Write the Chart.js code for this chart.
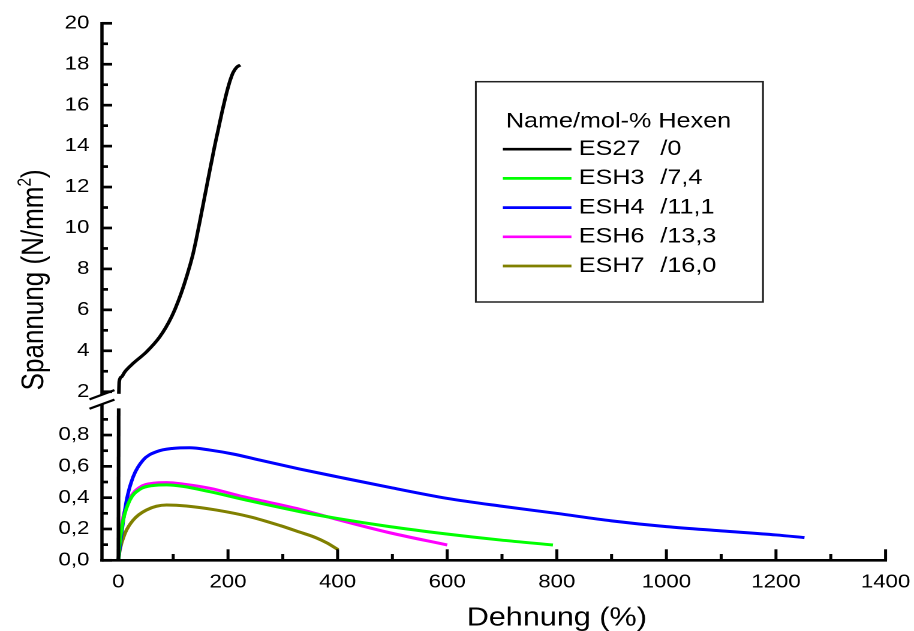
<!DOCTYPE html>
<html>
<head>
<meta charset="utf-8">
<title>Spannung-Dehnung</title>
<script src="https://cdn.jsdelivr.net/npm/chart.js@4.4.1/dist/chart.umd.min.js"></script>
<style>
  html, body { margin: 0; padding: 0; background: #fff; overflow: hidden; }
  /* the plot is laid out on a 762px wide canvas and widened to 914px */
  #stage {
    position: absolute; left: 0; top: 0;
    width: 762px; height: 631px;
    transform: scaleX(1.199475); transform-origin: 0 0;
  }
</style>
</head>
<body>
<div id="stage"><canvas id="chart"></canvas></div>
<script>
const FONT = "'Liberation Sans', Arial, Helvetica, sans-serif";

// ---- series: strain (%) and stress (N/mm²) ----
const seriesNames  = ['ES27', 'ESH3', 'ESH4', 'ESH6', 'ESH7'];
const hexenContent = ['/0', '/7,4', '/11,1', '/13,3', '/16,0'];
const legendTitle  = 'Name/mol-% Hexen';

const es27Strain = [0, 0.5, 0.8, 1.5, 5.8, 11.9, 27, 51.4, 75.7, 97, 112.2, 124.4, 136.4, 150.5, 163.3, 176, 188.3, 199.8, 208.9, 216.2, 222.5];
const es27Stress = [0, 0.97, 1.9, 2.49, 2.73, 2.98, 3.39, 3.95, 4.69, 5.66, 6.64, 7.62, 8.76, 10.58, 12.34, 14.05, 15.57, 16.84, 17.57, 17.86, 17.96];

const esh3Strain = [0, 2.7, 8.8, 21, 39, 63.5, 88, 118, 167, 228, 331, 398, 495, 599, 696, 793];
const esh3Stress = [0, 0.115, 0.257, 0.385, 0.453, 0.478, 0.482, 0.472, 0.438, 0.389, 0.311, 0.268, 0.215, 0.168, 0.130, 0.098];

const esh4Strain = [0, 1.5, 5.8, 15, 27, 45, 70, 100, 130, 167, 209, 258, 331, 404, 500, 599, 700, 799, 900, 1000, 1100, 1200, 1252];
const esh4Stress = [0, 0.045, 0.172, 0.385, 0.534, 0.64, 0.694, 0.715, 0.719, 0.704, 0.679, 0.640, 0.583, 0.530, 0.462, 0.396, 0.345, 0.300, 0.252, 0.215, 0.188, 0.162, 0.145];

const esh6Strain = [0, 2.7, 8.8, 21, 39, 63.5, 88, 118, 167, 228, 331, 398, 495, 600];
const esh6Stress = [0, 0.13, 0.278, 0.396, 0.466, 0.492, 0.496, 0.487, 0.46, 0.406, 0.326, 0.262, 0.176, 0.098];

const esh7Strain = [0, 2.7, 12, 27, 51, 88, 124, 179, 240, 295, 331, 360, 380, 401];
const esh7Stress = [0, 0.066, 0.172, 0.257, 0.321, 0.353, 0.347, 0.321, 0.278, 0.222, 0.180, 0.145, 0.112, 0.068];

// ---- axis ticks ----
const strainTicks          = [0, 200, 400, 600, 800, 1000, 1200, 1400];
const strainMinorTicks     = [100, 300, 500, 700, 900, 1100, 1300];
const lowStressTicks       = [0, 0.2, 0.4, 0.6, 0.8];
const lowStressMinorTicks  = [0.1, 0.3, 0.5, 0.7, 0.9];
const highStressTicks      = [2, 4, 6, 8, 10, 12, 14, 16, 18, 20];
const highStressMinorTicks = [3, 5, 7, 9, 11, 13, 15, 17, 19];

const seriesColors = ['#000000', '#00ff00', '#0000ff', '#ff00ff', '#808000'];

// broken stress axis: lower segment 0..1, upper segment from just below 2 up to 20
const LOW_MAX = 1.0;
const HIGH_MIN = 1.414;
const BREAK_LOW = 0.997;
const BREAK_HIGH = 1.853;

function toPoints(xs, ys, keep) {
  const out = [];
  xs.forEach((x, i) => { if (!keep || keep(ys[i])) out.push({ x: x, y: ys[i] }); });
  return out;
}

const lineStyle = (color) => ({
  borderColor: color,
  backgroundColor: color,
  borderWidth: 3,
  pointRadius: 0,
  fill: false,
  cubicInterpolationMode: 'monotone'
});

const datasets = [
  Object.assign({ label: seriesNames[0], yAxisID: 'yLow',
    data: toPoints(es27Strain, es27Stress, v => v <= LOW_MAX) }, lineStyle(seriesColors[0])),
  Object.assign({ label: seriesNames[0], yAxisID: 'yHigh',
    data: toPoints(es27Strain, es27Stress, v => v > LOW_MAX) }, lineStyle(seriesColors[0])),
  Object.assign({ label: seriesNames[1], yAxisID: 'yLow', data: toPoints(esh3Strain, esh3Stress) }, lineStyle(seriesColors[1])),
  Object.assign({ label: seriesNames[2], yAxisID: 'yLow', data: toPoints(esh4Strain, esh4Stress) }, lineStyle(seriesColors[2])),
  Object.assign({ label: seriesNames[3], yAxisID: 'yLow', data: toPoints(esh6Strain, esh6Stress) }, lineStyle(seriesColors[3])),
  Object.assign({ label: seriesNames[4], yAxisID: 'yLow', data: toPoints(esh7Strain, esh7Stress) }, lineStyle(seriesColors[4]))
];

const tickFont = { family: FONT, size: 18.5 };
const setTicks = (list) => (scale) => { scale.ticks = list.map(v => ({ value: v })); };

// frame, inward ticks, axis break, titles and legend box
const axisFrame = {
  id: 'axisFrame',
  beforeDraw(chart) {
    const { ctx, width, height } = chart;
    ctx.save();
    ctx.fillStyle = '#ffffff';
    ctx.fillRect(0, 0, width, height);
    ctx.restore();
  },
  afterDatasetsDraw(chart) {
    const { ctx } = chart;
    const { x, yLow, yHigh } = chart.scales;
    const ax = x.getPixelForValue(x.min);
    const axRight = x.getPixelForValue(x.max);
    const base = yLow.getPixelForValue(0);
    const lowTop = yLow.getPixelForValue(BREAK_LOW);
    const highBottom = yHigh.getPixelForValue(BREAK_HIGH);
    const highTop = yHigh.getPixelForValue(yHigh.max);

    ctx.save();
    ctx.strokeStyle = '#000';
    ctx.fillStyle = '#000';
    ctx.lineCap = 'butt';
    const seg = (x1, y1, x2, y2, w) => {
      ctx.lineWidth = w;
      ctx.beginPath();
      ctx.moveTo(x1, y1);
      ctx.lineTo(x2, y2);
      ctx.stroke();
    };

    // axis lines
    seg(ax - 1.4, base, axRight + 1.2, base, 2.7);
    seg(ax, base + 1.35, ax, lowTop, 2.75);
    seg(ax, highBottom, ax, highTop - 1.35, 2.75);

    // stress ticks (pointing into the plot)
    lowStressTicks.forEach(v => { const p = yLow.getPixelForValue(v); seg(ax, p, ax + 8.5, p, 2.7); });
    lowStressMinorTicks.forEach(v => { const p = yLow.getPixelForValue(v); seg(ax, p, ax + 5, p, 2.7); });
    highStressTicks.forEach(v => { const p = yHigh.getPixelForValue(v); seg(ax, p, ax + 8.5, p, 2.7); });
    highStressMinorTicks.forEach(v => { const p = yHigh.getPixelForValue(v); seg(ax, p, ax + 5, p, 2.7); });

    // strain ticks
    strainTicks.forEach(v => { const p = x.getPixelForValue(v); seg(p, base, p, base - 11, 2.5); });
    strainMinorTicks.forEach(v => { const p = x.getPixelForValue(v); seg(p, base, p, base - 6.3, 2.5); });

    // axis break marks
    [highBottom, lowTop].forEach(yb => seg(ax - 10.4, yb + 4.6, ax + 10.4, yb - 4.6, 2.2));

    // x axis title
    ctx.font = '25.5px ' + FONT;
    ctx.textAlign = 'center';
    ctx.textBaseline = 'alphabetic';
    ctx.fillText('Dehnung (%)', x.getPixelForValue(800), 625.3);

    // y axis title with superscript
    const main = 'Spannung (N/mm';
    const sup = '2';
    const tail = ')';
    ctx.save();
    ctx.translate(36, (yHigh.top + yLow.bottom) / 2 - 12);
    ctx.rotate(-Math.PI / 2);
    ctx.textAlign = 'left';
    ctx.font = '26px ' + FONT;
    const wMain = ctx.measureText(main).width;
    const wTail = ctx.measureText(tail).width;
    ctx.font = '15.5px ' + FONT;
    const wSup = ctx.measureText(sup).width;
    let cx = -(wMain + wSup + wTail) / 2;
    ctx.font = '26px ' + FONT;
    ctx.fillText(main, cx, 0);
    cx += wMain;
    ctx.font = '15.5px ' + FONT;
    ctx.fillText(sup, cx, -10.5);
    cx += wSup;
    ctx.font = '26px ' + FONT;
    ctx.fillText(tail, cx, 0);
    ctx.restore();

    // legend
    const box = { left: 396.7, top: 81.7, width: 239.4, height: 220.3 };
    ctx.lineWidth = 1.5;
    ctx.strokeStyle = '#222';
    ctx.strokeRect(box.left, box.top, box.width, box.height);
    ctx.font = '21px ' + FONT;
    ctx.textAlign = 'left';
    ctx.textBaseline = 'middle';
    ctx.fillStyle = '#000';
    ctx.fillText(legendTitle, 421.7, 121.7);
    seriesNames.forEach((name, i) => {
      const yRow = 149.2 + i * 29.2;
      ctx.strokeStyle = seriesColors[i];
      seg(419.2, yRow, 476.4, yRow, 2.7);
      ctx.fillStyle = '#000';
      ctx.fillText(name, 482.5, yRow);
      ctx.fillText(hexenContent[i], 550.5, yRow);
    });
    ctx.restore();
  }
};

new Chart(document.getElementById('chart'), {
  type: 'line',
  data: { datasets: datasets },
  options: {
    responsive: true,
    maintainAspectRatio: false,
    animation: false,
    devicePixelRatio: 2,
    events: [],
    layout: { padding: { top: 23.3, right: 23.7, bottom: 0, left: 0 } },
    plugins: { legend: { display: false }, tooltip: { enabled: false }, title: { display: false } },
    scales: {
      x: {
        type: 'linear',
        min: -30,
        max: 1400,
        grid: { display: false, drawTicks: false },
        border: { display: false },
        ticks: { font: tickFont, color: '#000', padding: 11, maxRotation: 0, autoSkip: false,
                 callback: (v) => String(v) },
        afterBuildTicks: setTicks(strainTicks),
        afterFit: (s) => { s.height = 70.7; s.paddingLeft = 0; s.paddingRight = 0; }
      },
      yLow: {
        type: 'linear',
        position: 'left',
        stack: 'stress',
        stackWeight: 156.6,
        min: 0,
        max: LOW_MAX,
        grid: { display: false, drawTicks: false },
        border: { display: false },
        ticks: { font: tickFont, color: '#000', padding: 10.5, autoSkip: false,
                 callback: (v) => v.toFixed(1).replace('.', ',') },
        afterBuildTicks: setTicks(lowStressTicks),
        afterFit: (s) => { s.width = 85; }
      },
      yHigh: {
        type: 'linear',
        position: 'left',
        stack: 'stress',
        stackWeight: 380.5,
        min: HIGH_MIN,
        max: 20,
        grid: { display: false, drawTicks: false },
        border: { display: false },
        ticks: { font: tickFont, color: '#000', padding: 10.5, autoSkip: false,
                 callback: (v) => String(v) },
        afterBuildTicks: setTicks(highStressTicks),
        afterFit: (s) => { s.width = 85; }
      }
    }
  },
  plugins: [axisFrame]
});
</script>
</body>
</html>
